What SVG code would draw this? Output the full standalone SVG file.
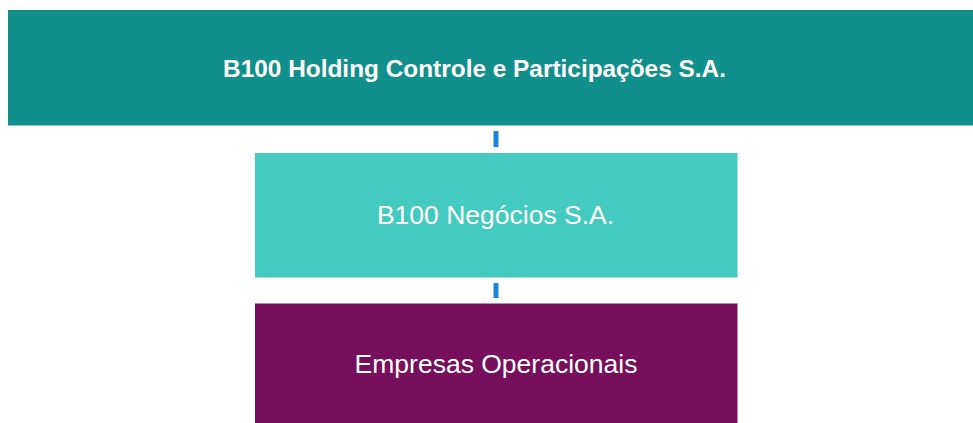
<svg xmlns="http://www.w3.org/2000/svg" width="973" height="423" viewBox="0 0 973 423">
<style>
.lbl{font-family:"Liberation Sans",Arial,sans-serif;fill:#ffffff;text-anchor:middle}
.conn{stroke:#1a86db;stroke-width:5;fill:none}
</style>
<rect width="973" height="423" fill="#ffffff"/>
<g id="connectors">
<line class="conn" x1="496" y1="131" x2="496" y2="147"/>
<line class="conn" x1="496" y1="283" x2="496" y2="298"/>
</g>
<g id="holding">
<rect x="8" y="10" width="965" height="115.5" fill="#118f8d"/>
<text class="lbl" x="474.5" y="77" font-size="24.4" font-weight="bold">B100 Holding Controle e Participações S.A.</text>
</g>
<g id="negocios">
<rect x="255" y="153" width="482.5" height="124.5" fill="#45cac1"/>
<text class="lbl" x="495.5" y="224" font-size="26.5">B100 Negócios S.A.</text>
</g>
<g id="operacionais">
<rect x="255" y="303.5" width="482.5" height="119.5" fill="#760f5c"/>
<text class="lbl" x="496" y="373" font-size="26.5">Empresas Operacionais</text>
</g>
</svg>
